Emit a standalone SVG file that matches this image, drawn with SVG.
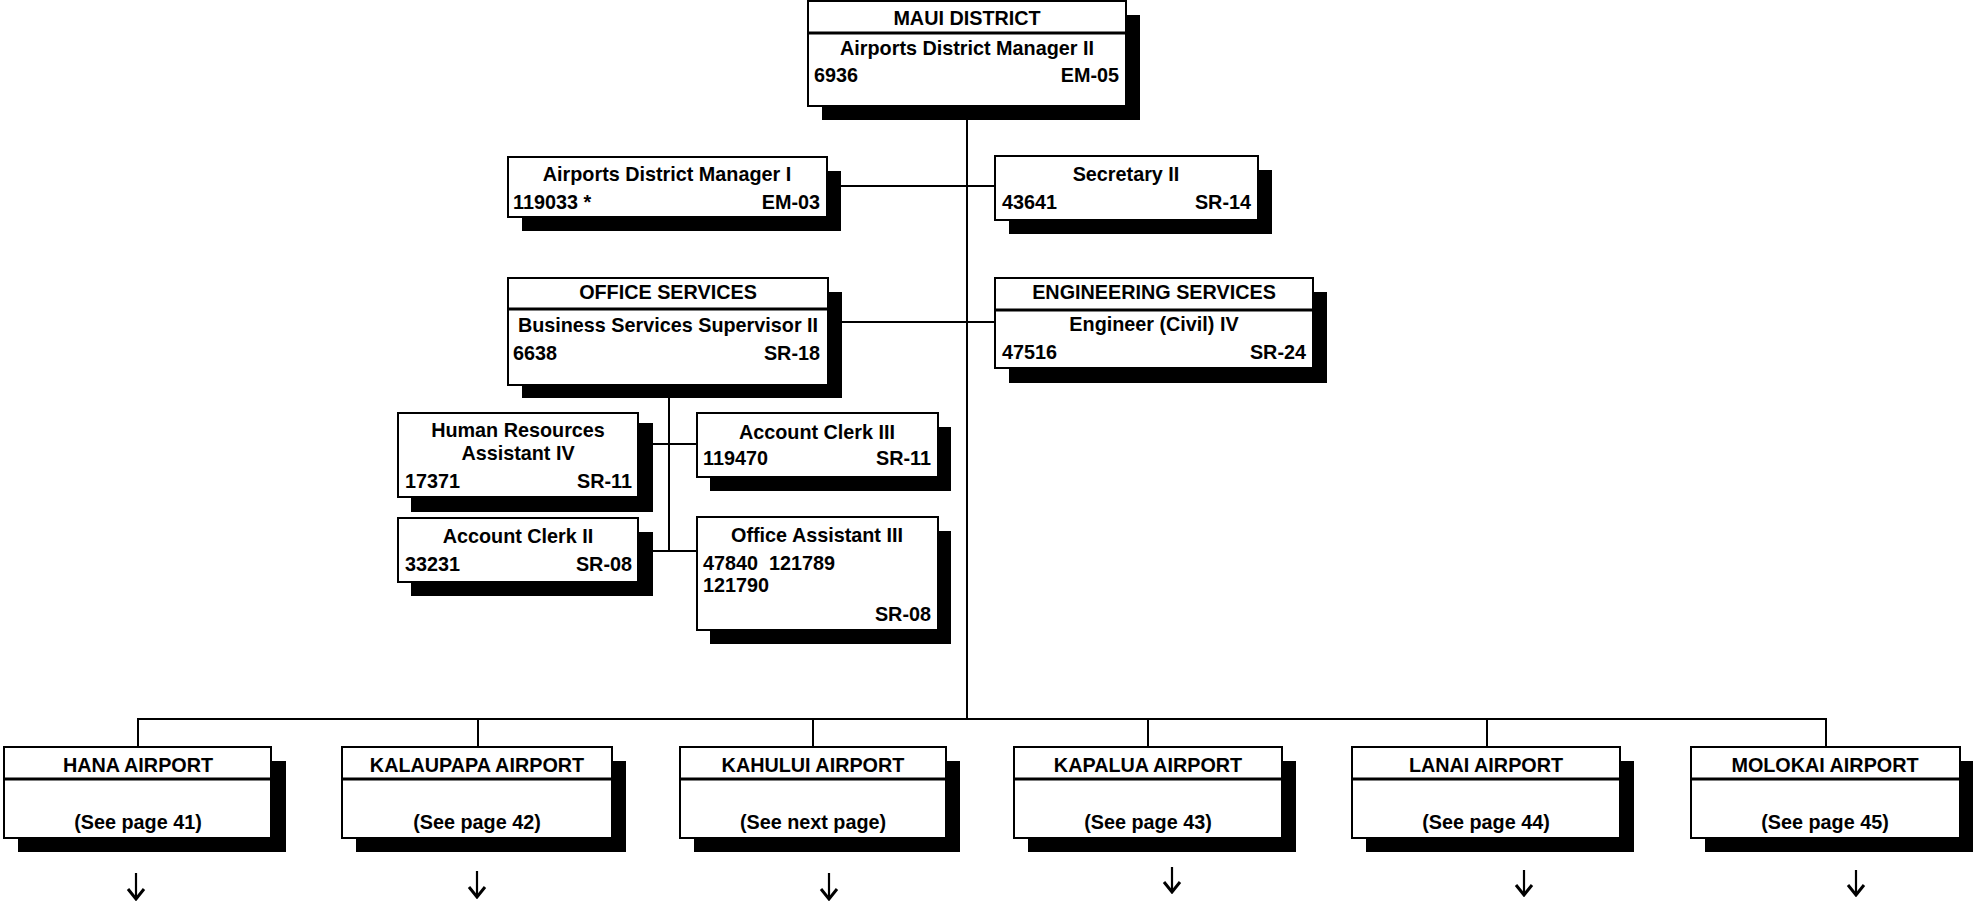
<svg xmlns="http://www.w3.org/2000/svg" width="1973" height="905" viewBox="0 0 1973 905">
<defs>
<style>
.bg{fill:#fff}
.box{fill:#fff;stroke:#000;stroke-width:2}
.sh{fill:#000}
.dv{stroke:#000;stroke-width:3}
.ln{stroke:#000;stroke-width:2;fill:none}
.ar{stroke:#000;stroke-width:2.2;fill:none}
text{font-family:"Liberation Sans",Arial,Helvetica,sans-serif;font-weight:bold;font-size:19.8px;fill:#000}
.c{text-anchor:middle}
.r{text-anchor:end}
</style>
<marker id="ah" viewBox="0 0 20 14" refX="10" refY="12" markerWidth="20" markerHeight="14" markerUnits="userSpaceOnUse" orient="0">
<path d="M2,2 L10,12 L18,2" fill="none" stroke="#000" stroke-width="3"/>
</marker>
</defs>
<rect class="bg" x="0" y="0" width="1973" height="905"/>
<g id="connectors">
<path class="ln" d="M967,106 V719"/>
<path class="ln" d="M841,186 H995"/>
<path class="ln" d="M842,322 H995"/>
<path class="ln" d="M669,385 V551"/>
<path class="ln" d="M653,444 H697"/>
<path class="ln" d="M653,551 H697"/>
<path class="ln" d="M138,747 V719 H1826 V747"/>
<path class="ln" d="M478,719 V747"/>
<path class="ln" d="M813,719 V747"/>
<path class="ln" d="M1148,719 V747"/>
<path class="ln" d="M1487,719 V747"/>
<path class="ar" d="M136,873 V899" marker-end="url(#ah)"/>
<path class="ar" d="M477,871 V897" marker-end="url(#ah)"/>
<path class="ar" d="M829,873 V899" marker-end="url(#ah)"/>
<path class="ar" d="M1172,867 V892" marker-end="url(#ah)"/>
<path class="ar" d="M1524,870 V895" marker-end="url(#ah)"/>
<path class="ar" d="M1856,870 V895" marker-end="url(#ah)"/>
</g>
<g id="maui">
<rect class="sh" x="822" y="15" width="318" height="105"/>
<rect class="box" x="808" y="1" width="318" height="105"/>
<line class="dv" x1="808" y1="33" x2="1126" y2="33"/>
<text class="c" x="967" y="25">MAUI DISTRICT</text>
<text class="c" x="967" y="55">Airports District Manager II</text>
<text x="814" y="82">6936</text>
<text class="r" x="1119" y="82">EM-05</text>
</g>
<g id="adm1">
<rect class="sh" x="522" y="171" width="319" height="60"/>
<rect class="box" x="508" y="157" width="319" height="60"/>
<text class="c" x="667" y="181">Airports District Manager I</text>
<text x="513" y="209">119033 *</text>
<text class="r" x="820" y="209">EM-03</text>
</g>
<g id="secretary">
<rect class="sh" x="1009" y="170" width="263" height="64"/>
<rect class="box" x="995" y="156" width="263" height="64"/>
<text class="c" x="1126" y="181">Secretary II</text>
<text x="1002" y="209">43641</text>
<text class="r" x="1251" y="209">SR-14</text>
</g>
<g id="office-services">
<rect class="sh" x="522" y="292" width="320" height="106"/>
<rect class="box" x="508" y="278" width="320" height="107"/>
<line class="dv" x1="508" y1="309" x2="828" y2="309"/>
<text class="c" x="668" y="299">OFFICE SERVICES</text>
<text class="c" x="668" y="332">Business Services Supervisor II</text>
<text x="513" y="360">6638</text>
<text class="r" x="820" y="360">SR-18</text>
</g>
<g id="engineering-services">
<rect class="sh" x="1009" y="292" width="318" height="91"/>
<rect class="box" x="995" y="278" width="318" height="90"/>
<line class="dv" x1="995" y1="310" x2="1313" y2="310"/>
<text class="c" x="1154" y="299">ENGINEERING SERVICES</text>
<text class="c" x="1154" y="331">Engineer (Civil) IV</text>
<text x="1002" y="359">47516</text>
<text class="r" x="1306" y="359">SR-24</text>
</g>
<g id="hr-assistant">
<rect class="sh" x="411" y="423" width="242" height="89"/>
<rect class="box" x="398" y="413" width="240" height="84"/>
<text class="c" x="518" y="437">Human Resources</text>
<text class="c" x="518" y="460">Assistant IV</text>
<text x="405" y="488">17371</text>
<text class="r" x="632" y="488">SR-11</text>
</g>
<g id="account-clerk-3">
<rect class="sh" x="710" y="427" width="241" height="64"/>
<rect class="box" x="697" y="413" width="241" height="64"/>
<text class="c" x="817" y="439">Account Clerk III</text>
<text x="703" y="465">119470</text>
<text class="r" x="931" y="465">SR-11</text>
</g>
<g id="account-clerk-2">
<rect class="sh" x="411" y="532" width="242" height="64"/>
<rect class="box" x="398" y="518" width="240" height="64"/>
<text class="c" x="518" y="543">Account Clerk II</text>
<text x="405" y="571">33231</text>
<text class="r" x="632" y="571">SR-08</text>
</g>
<g id="office-assistant-3">
<rect class="sh" x="710" y="531" width="241" height="113"/>
<rect class="box" x="697" y="517" width="241" height="113"/>
<text class="c" x="817" y="542">Office Assistant III</text>
<text x="703" y="570" xml:space="preserve">47840  121789</text>
<text x="703" y="592">121790</text>
<text class="r" x="931" y="621">SR-08</text>
</g>
<g id="hana">
<rect class="sh" x="18" y="761" width="268" height="91"/>
<rect class="box" x="4" y="747" width="267" height="91"/>
<line class="dv" x1="4" y1="779" x2="271" y2="779"/>
<text class="c" x="138" y="772">HANA AIRPORT</text>
<text class="c" x="138" y="829">(See page 41)</text>
</g>
<g id="kalaupapa">
<rect class="sh" x="356" y="761" width="270" height="91"/>
<rect class="box" x="342" y="747" width="270" height="91"/>
<line class="dv" x1="342" y1="779" x2="612" y2="779"/>
<text class="c" x="477" y="772">KALAUPAPA AIRPORT</text>
<text class="c" x="477" y="829">(See page 42)</text>
</g>
<g id="kahului">
<rect class="sh" x="694" y="761" width="266" height="91"/>
<rect class="box" x="680" y="747" width="266" height="91"/>
<line class="dv" x1="680" y1="779" x2="946" y2="779"/>
<text class="c" x="813" y="772">KAHULUI AIRPORT</text>
<text class="c" x="813" y="829">(See next page)</text>
</g>
<g id="kapalua">
<rect class="sh" x="1028" y="761" width="268" height="91"/>
<rect class="box" x="1014" y="747" width="268" height="91"/>
<line class="dv" x1="1014" y1="779" x2="1282" y2="779"/>
<text class="c" x="1148" y="772">KAPALUA AIRPORT</text>
<text class="c" x="1148" y="829">(See page 43)</text>
</g>
<g id="lanai">
<rect class="sh" x="1366" y="761" width="268" height="91"/>
<rect class="box" x="1352" y="747" width="268" height="91"/>
<line class="dv" x1="1352" y1="779" x2="1620" y2="779"/>
<text class="c" x="1486" y="772">LANAI AIRPORT</text>
<text class="c" x="1486" y="829">(See page 44)</text>
</g>
<g id="molokai">
<rect class="sh" x="1705" y="761" width="268" height="91"/>
<rect class="box" x="1691" y="747" width="269" height="91"/>
<line class="dv" x1="1691" y1="779" x2="1960" y2="779"/>
<text class="c" x="1825" y="772">MOLOKAI AIRPORT</text>
<text class="c" x="1825" y="829">(See page 45)</text>
</g>
</svg>
